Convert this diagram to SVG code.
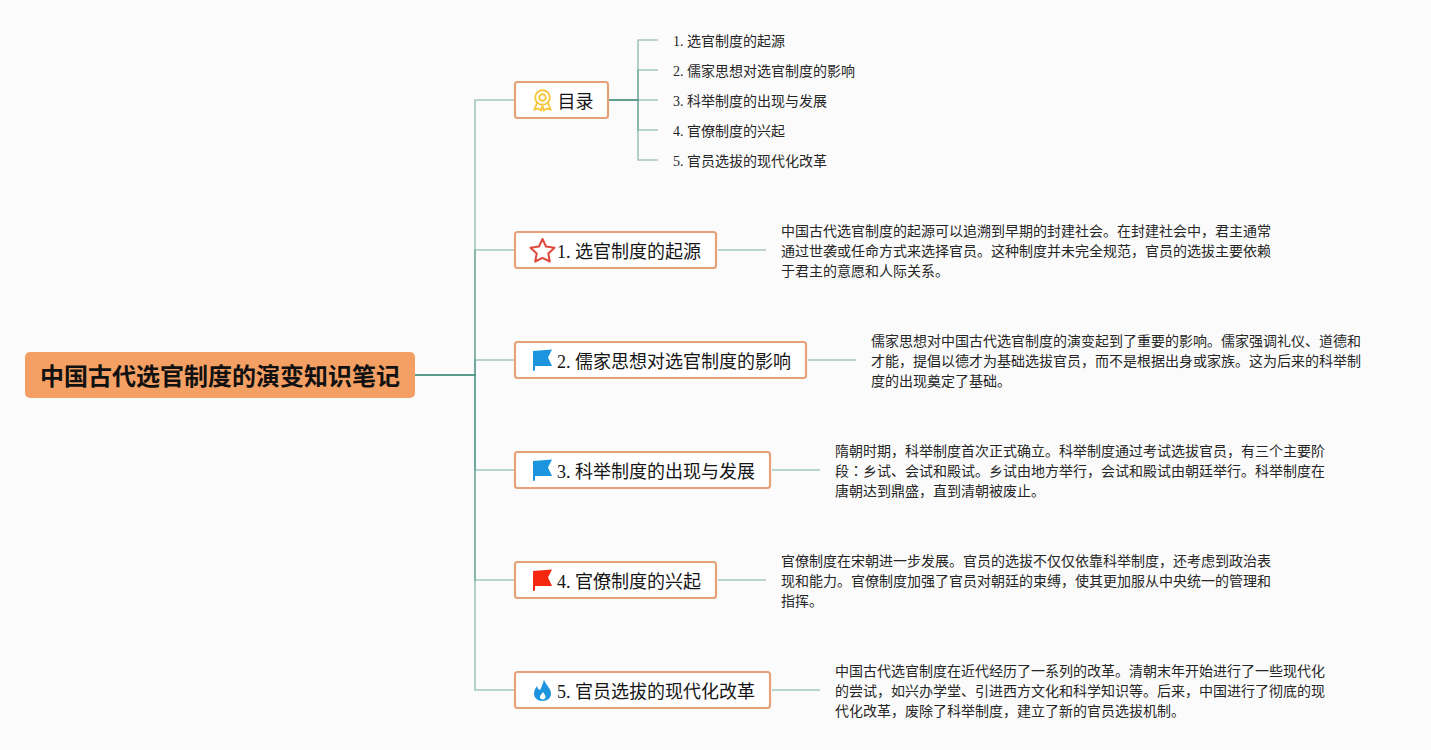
<svg xmlns="http://www.w3.org/2000/svg" width="1431" height="750" viewBox="0 0 1431 750">
<style>
text{font-family:"Liberation Serif","Noto Sans CJK SC",serif;fill:#151515}
.root{font-size:24px;font-weight:700;fill:#111}
.t{font-size:18px}
.s{font-size:14px;fill:#262626}
.box{fill:#fff;stroke:#e6a276;stroke-width:2.200}
.c{fill:none;stroke:#4f9585;stroke-opacity:.5;stroke-width:1.700;stroke-linejoin:round}
.d{fill:none;stroke:#4f9585;stroke-opacity:.5;stroke-width:1.700}
</style>
<rect width="1431" height="750" fill="#fbfbfb"/>
<g id="connectors">
<path class="c" d="M415 375H475V100H514"/>
<path class="c" d="M415 375H475V250H514"/>
<path class="c" d="M415 375H475V360H514"/>
<path class="c" d="M415 375H475V470H514"/>
<path class="c" d="M415 375H475V580H514"/>
<path class="c" d="M415 375H475V690H514"/>
<path class="c" d="M609 100H638V40H658"/>
<path class="c" d="M609 100H638V70H658"/>
<path class="c" d="M609 100H658"/>
<path class="c" d="M609 100H638V130H658"/>
<path class="c" d="M609 100H638V160H658"/>
<path class="d" d="M718 250H766M808 360H856M772 470H820M718 580H766M772 690H820"/>
</g>
<g id="root"><rect x="25" y="352" width="390" height="46" rx="5" fill="#f4a064"/><text class="root" x="40" y="385">中国古代选官制度的演变知识笔记</text></g>
<g id="toc"><rect class="box" x="515" y="82" width="93" height="36" rx="2.500"/>
<g fill="none" stroke="#f6c63c" stroke-width="1.900"><circle cx="542.500" cy="97.500" r="7.300"/><circle cx="542.500" cy="97.500" r="3.300"/><path d="M537 103L534.500 109.500L538.500 108.500L541 110.500L542.500 106L544 110.500L546.500 108.500L550.500 109.500L548 103"/></g>
<text class="t" x="557.500" y="108">目录</text></g>
<g id="toc1"><text class="s" x="673" y="46">1. 选官制度的起源</text></g>
<g id="toc2"><text class="s" x="673" y="76">2. 儒家思想对选官制度的影响</text></g>
<g id="toc3"><text class="s" x="673" y="106">3. 科举制度的出现与发展</text></g>
<g id="toc4"><text class="s" x="673" y="136">4. 官僚制度的兴起</text></g>
<g id="toc5"><text class="s" x="673" y="166">5. 官员选拔的现代化改革</text></g>
<g id="n1"><rect class="box" x="515" y="232" width="201" height="36" rx="2.500"/>
<path d="M542.500 239L546 246.500L554.500 247.700L548.300 253.500L549.800 261.500L542.500 257.800L535.200 261.500L536.700 253.500L530.500 247.700L539 246.500Z" fill="#fff" stroke="#e2493c" stroke-width="2" stroke-linejoin="round"/>
<text class="t" x="557" y="258">1. 选官制度的起源</text></g>
<g id="n1d"><text class="s" x="781" y="236">中国古代选官制度的起源可以追溯到早期的封建社会。在封建社会中，君主通常</text><text class="s" x="781" y="256">通过世袭或任命方式来选择官员。这种制度并未完全规范，官员的选拔主要依赖</text><text class="s" x="781" y="276">于君主的意愿和人际关系。</text></g>
<g id="n2"><rect class="box" x="515" y="342" width="291" height="36" rx="2.500"/>
<path d="M533 351L552 349.500L548 357.500L552 366H535V370.500L533 371Z" fill="#1c95de"/>
<text class="t" x="557" y="368">2. 儒家思想对选官制度的影响</text></g>
<g id="n2d"><text class="s" x="871" y="346">儒家思想对中国古代选官制度的演变起到了重要的影响。儒家强调礼仪、道德和</text><text class="s" x="871" y="366">才能，提倡以德才为基础选拔官员，而不是根据出身或家族。这为后来的科举制</text><text class="s" x="871" y="386">度的出现奠定了基础。</text></g>
<g id="n3"><rect class="box" x="515" y="452" width="255" height="36" rx="2.500"/>
<path d="M533 461L552 459.500L548 467.500L552 476H535V480.500L533 481Z" fill="#1c95de"/>
<text class="t" x="557" y="478">3. 科举制度的出现与发展</text></g>
<g id="n3d"><text class="s" x="835" y="456">隋朝时期，科举制度首次正式确立。科举制度通过考试选拔官员，有三个主要阶</text><text class="s" x="835" y="476">段<tspan font-family="Noto Sans CJK TC">：</tspan>乡试、会试和殿试。乡试由地方举行，会试和殿试由朝廷举行。科举制度在</text><text class="s" x="835" y="496">唐朝达到鼎盛，直到清朝被废止。</text></g>
<g id="n4"><rect class="box" x="515" y="562" width="201" height="36" rx="2.500"/>
<path d="M533 571L552 569.500L548 577.500L552 586H535V590.500L533 591Z" fill="#f5280f"/>
<text class="t" x="557" y="588">4. 官僚制度的兴起</text></g>
<g id="n4d"><text class="s" x="781" y="566">官僚制度在宋朝进一步发展。官员的选拔不仅仅依靠科举制度，还考虑到政治表</text><text class="s" x="781" y="586">现和能力。官僚制度加强了官员对朝廷的束缚，使其更加服从中央统一的管理和</text><text class="s" x="781" y="606">指挥。</text></g>
<g id="n5"><rect class="box" x="515" y="672" width="255" height="36" rx="2.500"/>
<path d="M544 679C544.500 684 551 688 551 693.500C551 698 547.500 701 542.500 701C537.500 701 534 698 534 693.500C534 690.500 535.500 688.500 537 686C537.500 688.500 538.500 689.500 540 690C541.500 687 543 684 544 679ZM543 692C542 694 540 695 540 697C540 698.500 541.200 699.500 542.800 699.500C544.500 699.500 545.500 698.500 545.500 697C545.500 695 544 694 543 692Z" fill="#1c95de" fill-rule="evenodd"/>
<text class="t" x="557" y="698">5. 官员选拔的现代化改革</text></g>
<g id="n5d"><text class="s" x="835" y="676">中国古代选官制度在近代经历了一系列的改革。清朝末年开始进行了一些现代化</text><text class="s" x="835" y="696">的尝试，如兴办学堂、引进西方文化和科学知识等。后来，中国进行了彻底的现</text><text class="s" x="835" y="716">代化改革，废除了科举制度，建立了新的官员选拔机制。</text></g>
</svg>
